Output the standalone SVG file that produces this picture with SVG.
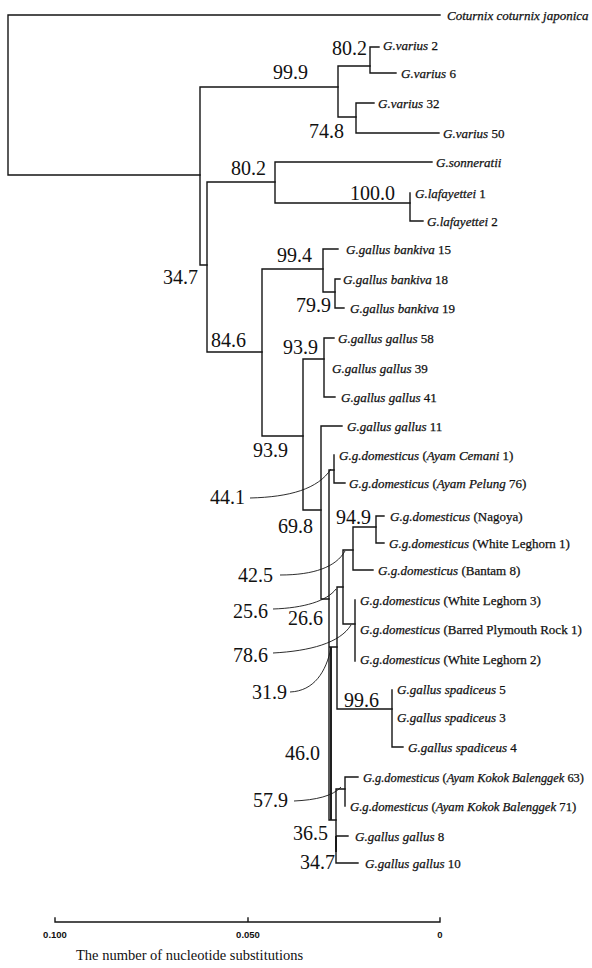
<svg xmlns="http://www.w3.org/2000/svg" width="592" height="968" viewBox="0 0 592 968">
<style>
.b{fill:none;stroke:#151515;stroke-width:1.4;stroke-linecap:square}
.k{fill:none;stroke:#151515;stroke-width:1.9}
.l{fill:none;stroke:#151515;stroke-width:0.9}
.n{font-family:"Liberation Serif",serif;font-size:20px;fill:#111}
.t{font-family:"Liberation Serif",serif;font-size:13px;fill:#111;stroke:#111;stroke-width:0.25}
.i{font-style:italic}
.s{font-family:"Liberation Sans",Arial,sans-serif;font-size:9.5px;font-weight:bold;fill:#111;text-anchor:middle}
.a{font-family:"Liberation Serif",serif;font-size:14.5px;fill:#111}
</style>
<rect width="592" height="968" fill="#fff"/>
<g id="connectors">
<path class="b" d="M8,15V175M8,15H440M8,175H200"/>
<path class="b" d="M200,87V265M200,87H338M200,265H207"/>
<path class="b" d="M338,66V117M338,66H370M338,117H356"/>
<path class="b" d="M370,47V73M370,47H379M370,73H396"/>
<path class="b" d="M356,103V133M356,103H374M356,133H439"/>
<path class="b" d="M207,182V352M207,182H275M207,352H262"/>
<path class="b" d="M275,162V203M275,162H432M275,203H410"/>
<path class="b" d="M410,193V221M410,221H423"/>
<path class="b" d="M262,269V436M262,269H323M262,436H303"/>
<path class="b" d="M323,249V292M323,249H338M323,292H335"/>
<path class="b" d="M335,279V308M335,279H340M335,308H344"/>
<path class="b" d="M303,359V510M303,359H324M303,510H321"/>
<path class="b" d="M324,338V397M324,338H334M324,397H335"/>
<path class="b" d="M321,426V599M321,426H342M321,599H329"/>
<path class="b" d="M329,470V820M329,470H334M329,647H337M329,820H336"/>
<path class="b" d="M334,455V483M334,483H345"/>
<path class="b" d="M337,587V709M337,587H343M337,709H392"/>
<path class="b" d="M343,550V624M343,550H353M343,624H355"/>
<path class="b" d="M353,527V570M353,527H376M353,570H373"/>
<path class="b" d="M376,516V543M376,516H384M376,543H384"/>
<path class="b" d="M355,600V661"/>
<path class="b" d="M392,690V747M392,747H403"/>
<path class="b" d="M336,789V863M336,789H345M336,836H348M336,863H358"/>
<path class="b" d="M345,777V806M345,777H358"/>
<path class="k" d="M336,836V852M331,647V820"/>
<path class="l" d="M250,498C290,497 318,489 331,469"/>
<path class="l" d="M280,575C314,575 336,567 345,551"/>
<path class="l" d="M273,609C304,608 327,601 336,589"/>
<path class="l" d="M273,653C310,651 340,643 351,625"/>
<path class="l" d="M290,692C314,691 326,672 331,648"/>
<path class="l" d="M294,801C316,800 333,796 341,787"/>
</g>
<g id="taxa">
<g id="t-coturnix"><text class="t i" x="447" y="19.5">Coturnix coturnix japonica</text></g>
<g id="t-varius2"><text class="t" x="383" y="49.5"><tspan class="i">G.varius</tspan> 2</text></g>
<g id="t-varius6"><text class="t" x="401" y="77.5"><tspan class="i">G.varius</tspan> 6</text></g>
<g id="t-varius32"><text class="t" x="378" y="108"><tspan class="i">G.varius</tspan> 32</text></g>
<g id="t-varius50"><text class="t" x="443" y="137.5"><tspan class="i">G.varius</tspan> 50</text></g>
<g id="t-sonneratii"><text class="t i" x="436" y="166.5">G.sonneratii</text></g>
<g id="t-laf1"><text class="t" x="415" y="197.5"><tspan class="i">G.lafayettei</tspan> 1</text></g>
<g id="t-laf2"><text class="t" x="427" y="225.5"><tspan class="i">G.lafayettei</tspan> 2</text></g>
<g id="t-bank15"><text class="t" x="346" y="253.5"><tspan class="i">G.gallus bankiva</tspan> 15</text></g>
<g id="t-bank18"><text class="t" x="343" y="283.5"><tspan class="i">G.gallus bankiva</tspan> 18</text></g>
<g id="t-bank19"><text class="t" x="350" y="312.5"><tspan class="i">G.gallus bankiva</tspan> 19</text></g>
<g id="t-gg58"><text class="t" x="338" y="342.5"><tspan class="i">G.gallus gallus</tspan> 58</text></g>
<g id="t-gg39"><text class="t" x="332" y="372.5"><tspan class="i">G.gallus gallus</tspan> 39</text></g>
<g id="t-gg41"><text class="t" x="341" y="401.5"><tspan class="i">G.gallus gallus</tspan> 41</text></g>
<g id="t-gg11"><text class="t" x="347" y="430.5"><tspan class="i">G.gallus gallus</tspan> 11</text></g>
<g id="t-cemani"><text class="t" x="339" y="459.5"><tspan class="i">G.g.domesticus</tspan> (<tspan class="i">Ayam Cemani</tspan> 1)</text></g>
<g id="t-pelung"><text class="t" x="349" y="487.5"><tspan class="i">G.g.domesticus</tspan> (<tspan class="i">Ayam Pelung</tspan> 76)</text></g>
<g id="t-nagoya"><text class="t" x="390" y="520.5"><tspan class="i">G.g.domesticus</tspan> (Nagoya)</text></g>
<g id="t-wl1"><text class="t" x="389" y="547.5"><tspan class="i">G.g.domesticus</tspan> (White Leghorn 1)</text></g>
<g id="t-bantam"><text class="t" x="378" y="574.5"><tspan class="i">G.g.domesticus</tspan> (Bantam 8)</text></g>
<g id="t-wl3"><text class="t" x="360" y="604.5"><tspan class="i">G.g.domesticus</tspan> (White Leghorn 3)</text></g>
<g id="t-bpr1"><text class="t" x="360" y="634"><tspan class="i">G.g.domesticus</tspan> (Barred Plymouth Rock 1)</text></g>
<g id="t-wl2"><text class="t" x="360" y="663.5"><tspan class="i">G.g.domesticus</tspan> (White Leghorn 2)</text></g>
<g id="t-spad5"><text class="t" x="397" y="694"><tspan class="i">G.gallus spadiceus</tspan> 5</text></g>
<g id="t-spad3"><text class="t" x="397" y="722"><tspan class="i">G.gallus spadiceus</tspan> 3</text></g>
<g id="t-spad4"><text class="t" x="408" y="751.5"><tspan class="i">G.gallus spadiceus</tspan> 4</text></g>
<g id="t-bal63"><text class="t" x="363" y="781.5" style="font-size:12.4px"><tspan class="i">G.g.domesticus</tspan> (<tspan class="i">Ayam Kokok Balenggek</tspan> 63)</text></g>
<g id="t-bal71"><text class="t" x="350" y="810.5" style="font-size:12.7px"><tspan class="i">G.g.domesticus</tspan> (<tspan class="i">Ayam Kokok Balenggek</tspan> 71)</text></g>
<g id="t-gg8"><text class="t" x="355" y="840.5"><tspan class="i">G.gallus gallus</tspan> 8</text></g>
<g id="t-gg10"><text class="t" x="365" y="867.5"><tspan class="i">G.gallus gallus</tspan> 10</text></g>
</g>
<g id="support">
<text class="n" x="332" y="55">80.2</text>
<text class="n" x="273" y="79">99.9</text>
<text class="n" x="309" y="138">74.8</text>
<text class="n" x="231" y="175">80.2</text>
<text class="n" x="350" y="200">100.0</text>
<text class="n" x="163" y="284">34.7</text>
<text class="n" x="277" y="262">99.4</text>
<text class="n" x="296" y="312">79.9</text>
<text class="n" x="211" y="347">84.6</text>
<text class="n" x="283" y="354">93.9</text>
<text class="n" x="253" y="457">93.9</text>
<text class="n" x="210" y="504">44.1</text>
<text class="n" x="278" y="533">69.8</text>
<text class="n" x="336" y="524">94.9</text>
<text class="n" x="238" y="582">42.5</text>
<text class="n" x="233" y="618">25.6</text>
<text class="n" x="288" y="625">26.6</text>
<text class="n" x="233" y="662">78.6</text>
<text class="n" x="252" y="699">31.9</text>
<text class="n" x="344" y="707">99.6</text>
<text class="n" x="285" y="760">46.0</text>
<text class="n" x="253" y="807">57.9</text>
<text class="n" x="293" y="840">36.5</text>
<text class="n" x="300" y="869">34.7</text>
</g>
<g id="scale">
<path class="b" d="M55,922H440M55,918V922M248,918V922M440,918V922"/>
<text class="s" x="55" y="938">0.100</text>
<text class="s" x="248" y="938">0.050</text>
<text class="s" x="440" y="938">0</text>
<text class="a" x="76" y="960">The number of nucleotide substitutions</text>
</g>
</svg>
